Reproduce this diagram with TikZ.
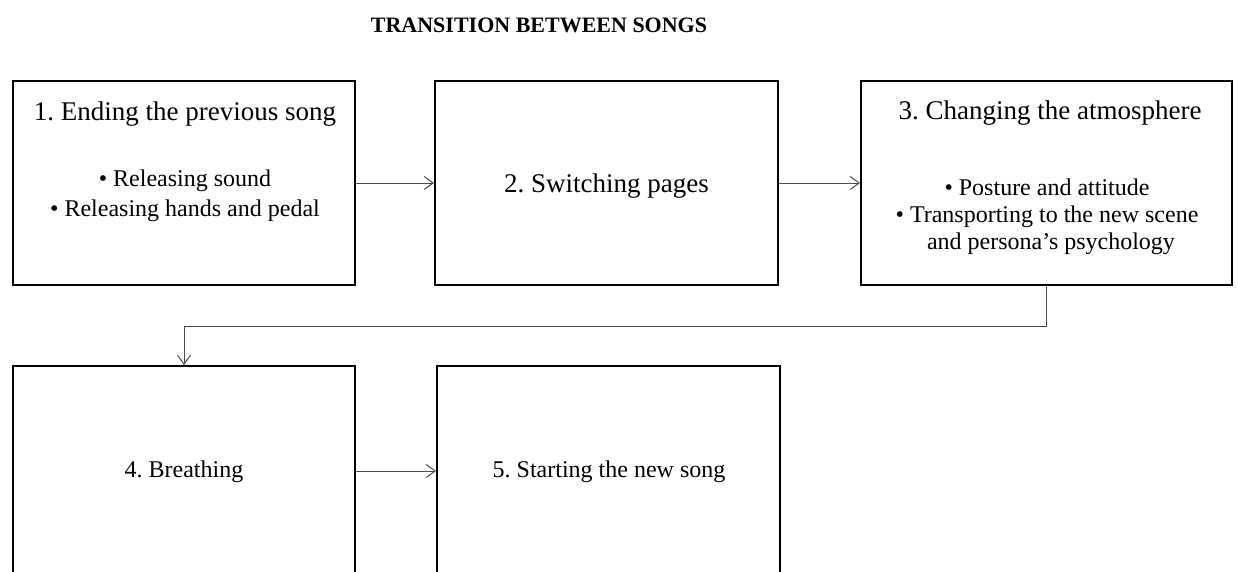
\documentclass[tikz,border=0pt]{standalone}
\usepackage{fontspec}
\setmainfont{Liberation Serif}
\usetikzlibrary{arrows.meta}
\frenchspacing
\begin{document}
\begin{tikzpicture}[x=1pt,y=-1pt,
  box/.style={draw=black,line width=2pt,inner sep=0pt},
  arr/.style={draw=black!70,line width=1pt,-{Straight Barb[length=9pt,width=13pt,line width=1pt]}},
  head/.style={anchor=base,inner sep=0pt,font=\fontsize{27}{32}\selectfont},
  item/.style={anchor=base,inner sep=0pt,font=\fontsize{24}{28}\selectfont},
  ttl/.style={anchor=base,inner sep=0pt,font=\fontsize{22}{26}\selectfont\bfseries},
]
\clip (0,0) rectangle (1238,572);
\node[ttl] (title) at (539,33) {TRANSITION BETWEEN SONGS};

\node[box,minimum width=342pt,minimum height=204pt] (b1) at (184,183) {};
\node[box,minimum width=343pt,minimum height=204pt] (b2) at (606.5,183) {};
\node[box,minimum width=371pt,minimum height=204pt] (b3) at (1046.5,183) {};
\node[box,minimum width=342pt,minimum height=210pt] (b4) at (184,471) {};
\node[box,minimum width=343pt,minimum height=210pt] (b5) at (608.5,471) {};

\node[head] (t1) at (185,121) {1. Ending the previous song};
\node[item] (t1a) at (185,186) {• Releasing sound};
\node[item] (t1b) at (185,216) {• Releasing hands and pedal};

\node[head] (t2) at (606.5,192) {2. Switching pages};

\node[head] (t3) at (1050,120) {3. Changing the atmosphere};
\node[item] (t3a) at (1047,195) {• Posture and attitude};
\node[item] (t3b) at (1047,222) {• Transporting to the new scene};
\node[item] (t3c) at (1051,249) {and persona’s psychology};

\node[item] (t4) at (184,477) {4. Breathing};
\node[item] (t5) at (609,477) {5. Starting the new song};

\draw[arr] (b1.east) -- (b2.west);
\draw[arr] (b2.east) -- (b3.west);
\draw[arr] (b3.south) -- ++(0,40) -| (b4.north);
\draw[arr] (b4.east) -- (b5.west);
\end{tikzpicture}
\end{document}
